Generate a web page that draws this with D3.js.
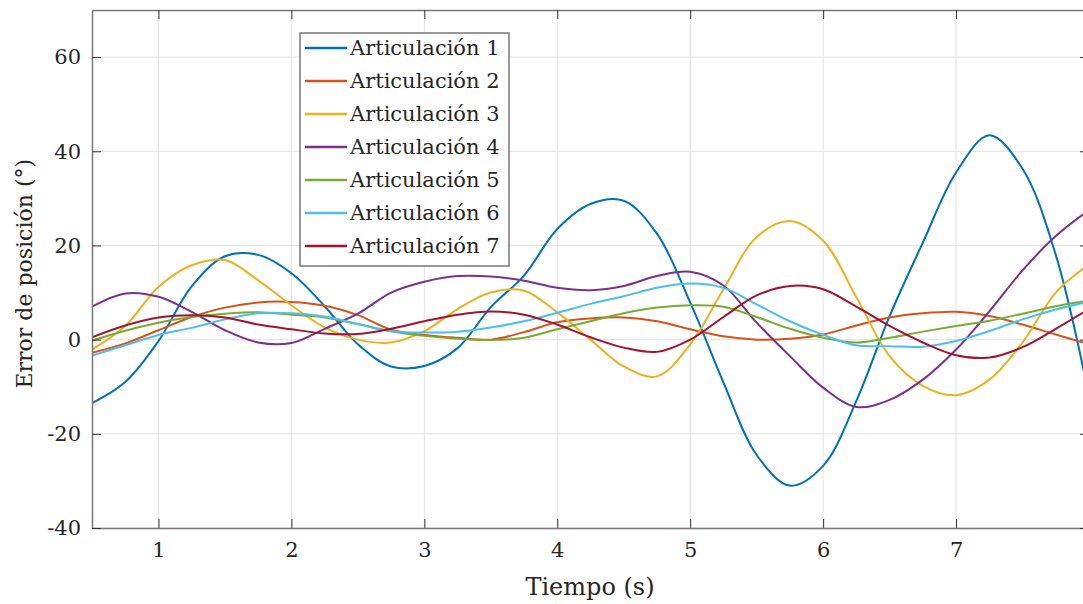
<!DOCTYPE html>
<html>
<head>
<meta charset="utf-8">
<script src="https://cdn.jsdelivr.net/npm/d3@7"></script>
<style>
  body { margin: 0; background: #fff; }
  svg { display: block; font-family: "DejaVu Serif", serif; }
</style>
</head>
<body>
<div id="chart"></div>
<script>
const width = 1083;
const height = 604;

// time samples (s)
const time = d3.range(0, 31).map(i => 0.5 + i * 0.25);

// position error per joint (deg)
const art1 = [-13.5, -9.0, -0.3, 11.3, 17.7, 18.0, 14.1, 7.1, -1.0, -5.7, -5.6, -1.8, 6.9, 13.6, 23.5, 28.8,
  29.5, 22.5, 7.9, -9.1, -24.5, -31.0, -26.8, -13.0, 5.0, 20.6, 35.5, 43.4, 36.3, 18.0, -12.0];
const art2 = [-2.8, -0.8, 2.0, 4.8, 6.8, 7.9, 8.0, 7.2, 5.2, 2.1, 1.0, 0.4, 0.0, 1.6, 3.7, 4.5,
  4.7, 3.9, 2.2, 0.7, 0.0, 0.2, 1.1, 3.0, 4.7, 5.6, 5.9, 5.0, 3.2, 1.1, -1.0];
const art3 = [-2.1, 2.9, 11.2, 15.8, 16.9, 12.6, 7.3, 2.6, 0.0, -0.6, 1.8, 6.5, 10.0, 10.4, 5.8, 0.0,
  -5.7, -7.8, -1.0, 10.7, 21.8, 25.2, 21.0, 9.0, -3.5, -9.8, -11.8, -8.5, -0.6, 10.0, 16.0];
const art4 = [7.0, 9.8, 9.1, 5.9, 2.0, -0.6, -0.7, 2.3, 5.5, 10.0, 12.3, 13.5, 13.4, 12.5, 11.0, 10.5,
  11.4, 13.5, 14.4, 11.5, 3.6, -3.5, -10.2, -14.3, -12.8, -8.5, -2.1, 6.0, 14.7, 22.0, 27.5];
const art5 = [-0.2, 1.9, 3.6, 4.8, 5.5, 5.8, 5.3, 4.7, 3.3, 1.8, 0.8, 0.2, -0.1, 0.4, 2.2, 3.9,
  5.6, 6.8, 7.3, 7.0, 4.8, 2.3, 0.4, -0.6, 0.4, 1.7, 2.9, 4.0, 5.5, 7.1, 8.3];
const art6 = [-3.4, -1.2, 1.0, 2.5, 4.3, 5.6, 5.6, 4.9, 3.3, 1.8, 1.5, 1.7, 2.6, 3.9, 5.7, 7.6,
  9.2, 11.0, 11.9, 11.0, 7.5, 3.9, 1.0, -1.2, -1.4, -1.5, -0.3, 1.8, 4.3, 6.4, 8.1];
const art7 = [0.5, 3.0, 4.7, 5.2, 4.7, 3.2, 2.2, 1.3, 1.2, 2.3, 3.9, 5.3, 6.0, 5.3, 3.2, 0.5,
  -1.7, -2.6, 0.0, 4.8, 9.4, 11.4, 10.7, 7.0, 2.9, -0.6, -3.3, -3.8, -1.6, 2.3, 6.5];

const names = ["Articulación 1", "Articulación 2", "Articulación 3", "Articulación 4",
  "Articulación 5", "Articulación 6", "Articulación 7"];
const seriesValues = [art1, art2, art3, art4, art5, art6, art7];
const colors = ["#0072BD", "#D95319", "#EDB120", "#7E2F8E", "#77AC30", "#4DBEEE", "#A2142F"];

const xTicks = [1, 2, 3, 4, 5, 6, 7];
const yTicks = [-40, -20, 0, 20, 40, 60];

const margin = { top: 10, right: -6, bottom: 76, left: 92 };
const plotW = width - margin.left - margin.right;
const plotH = height - margin.top - margin.bottom;

const x = d3.scaleLinear().domain([0.5, 8]).range([margin.left, margin.left + plotW]);
const y = d3.scaleLinear().domain([-40, 70]).range([margin.top + plotH, margin.top]);

const svg = d3.select("#chart")
  .append("svg")
  .attr("width", width)
  .attr("height", height);

svg.append("defs").append("clipPath")
  .attr("id", "plot-clip")
  .append("rect")
  .attr("x", x.range()[0])
  .attr("y", y.range()[1])
  .attr("width", plotW)
  .attr("height", plotH);

// grid
svg.append("g")
  .selectAll("line")
  .data(xTicks)
  .join("line")
  .attr("x1", d => x(d)).attr("x2", d => x(d))
  .attr("y1", y.range()[1]).attr("y2", y.range()[0])
  .attr("stroke", "#e3e3e3");

svg.append("g")
  .selectAll("line")
  .data(yTicks)
  .join("line")
  .attr("x1", x.range()[0]).attr("x2", x.range()[1])
  .attr("y1", d => y(d)).attr("y2", d => y(d))
  .attr("stroke", "#e3e3e3");

// series
const line = d3.line()
  .x((d, i) => x(time[i]))
  .y(d => y(d))
  .curve(d3.curveCatmullRom);

svg.append("g")
  .attr("clip-path", "url(#plot-clip)")
  .selectAll("path")
  .data(seriesValues)
  .join("path")
  .attr("fill", "none")
  .attr("stroke", (d, i) => colors[i])
  .attr("stroke-width", 2)
  .attr("stroke-linejoin", "round")
  .attr("d", line);

// axes (box style with inward ticks)
const tickSize = 9;
const plain = d => String(d); // plain hyphen for negatives, like the original
const xBottom = d3.axisBottom(x).tickValues(xTicks).tickFormat(plain).tickSizeInner(-tickSize).tickSizeOuter(0).tickPadding(14);
const yLeft = d3.axisLeft(y).tickValues(yTicks).tickFormat(plain).tickSizeInner(-tickSize).tickSizeOuter(0).tickPadding(11);

svg.append("g")
  .attr("transform", `translate(0,${y.range()[0]})`)
  .call(xBottom);
svg.append("g")
  .attr("transform", `translate(${x.range()[0]},0)`)
  .call(yLeft);

svg.append("g")
  .attr("transform", `translate(0,${y.range()[1]})`)
  .call(d3.axisTop(x).tickValues(xTicks).tickSizeInner(-tickSize).tickSizeOuter(0).tickFormat(""));
svg.append("g")
  .attr("transform", `translate(${x.range()[1]},0)`)
  .call(d3.axisRight(y).tickValues(yTicks).tickSizeInner(-tickSize).tickSizeOuter(0).tickFormat(""));

svg.selectAll(".domain").attr("stroke", "#777").attr("stroke-width", 1.5);
svg.selectAll(".tick line").attr("stroke", "#333");
svg.selectAll(".tick text")
  .attr("fill", "#262626")
  .style("font-family", "'DejaVu Serif', serif")
  .style("font-size", "21px");

// axis labels
svg.append("text")
  .attr("x", 590)
  .attr("y", 595)
  .attr("text-anchor", "middle")
  .attr("fill", "#262626")
  .style("font-size", "24px")
  .text("Tiempo (s)");

svg.append("text")
  .attr("transform", `translate(32,${y(14)}) rotate(-90)`)
  .attr("text-anchor", "middle")
  .attr("fill", "#262626")
  .style("font-size", "22px")
  .text("Error de posición (°)");

// legend
const legend = svg.append("g").attr("transform", "translate(300,33)");
legend.append("rect")
  .attr("width", 209)
  .attr("height", 233)
  .attr("fill", "#fff")
  .attr("stroke", "#777")
  .attr("stroke-width", 1.5);

const item = legend.selectAll("g.item")
  .data(names)
  .join("g")
  .attr("class", "item")
  .attr("transform", (d, i) => `translate(0,${15 + i * 33})`);

item.append("line")
  .attr("x1", 5).attr("x2", 47)
  .attr("stroke", (d, i) => colors[i])
  .attr("stroke-width", 2.5);

item.append("text")
  .attr("x", 50)
  .attr("dy", "0.35em")
  .attr("fill", "#262626")
  .style("font-size", "21px")
  .text(d => d);
</script>
</body>
</html>
